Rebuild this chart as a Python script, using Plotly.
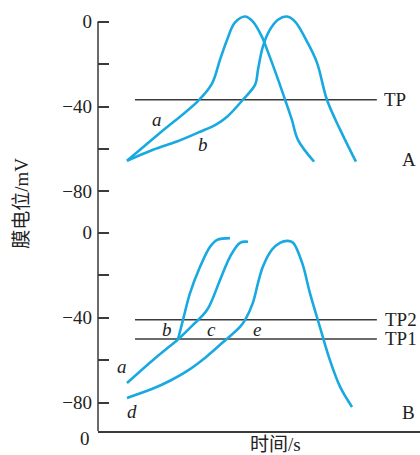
import plotly.graph_objects as go

# ---- Panel A: membrane potential curves (time in arbitrary units, mV) ----
a_t = [9.0, 19.3, 31.1, 35.4, 37.9, 40.1, 42.5, 45.7, 48.1, 50.9, 52.5, 55.6, 58.1, 60.2, 62.1, 67.1]
a_v = [-65.6, -52.4, -37.3, -29.2, -17.9, -8.5, -0.5, 2.4, 0.0, -7.1, -13.2, -25.9, -36.8, -46.2, -55.7, -66.0]

b_t = [9.0, 17.1, 24.5, 31.7, 36.5, 40.1, 45.0, 48.8, 49.7, 51.2, 53.4, 55.9, 58.7, 61.2, 64.9, 68.0, 71.1, 75.2, 80.1]
b_v = [-65.6, -60.4, -56.5, -51.9, -48.6, -44.8, -36.8, -29.7, -22.6, -11.8, -3.8, 0.9, 2.4, 0.0, -9.4, -19.3, -36.8, -50.9, -66.0]

tp_a = -36.8

# ---- Panel B ----
ba_t = [9.0, 17.1, 24.8]
ba_v = [-70.8, -59.9, -50.4]

bb_t = [24.8, 26.4, 28.6, 31.7, 34.8, 37.0, 41.0]
bb_v = [-50.4, -41.0, -28.3, -16.0, -6.6, -3.3, -2.5]

bc_t = [24.8, 29.5, 33.9, 37.9, 41.0, 44.1, 46.6]
bc_v = [-50.4, -43.4, -36.3, -22.2, -11.3, -4.7, -4.2]

bd_t = [9.0, 17.1, 22.5, 27.6, 33.5, 38.8, 44.1, 45.7, 48.1, 49.7, 51.2, 54.0, 56.5, 59.0, 60.6, 63.4, 65.8, 68.9, 72.0, 75.2, 78.9]
bd_v = [-77.8, -73.4, -69.6, -65.2, -58.6, -51.6, -44.3, -41.0, -33.0, -23.6, -16.0, -8.0, -4.7, -3.8, -4.7, -14.2, -28.3, -44.3, -59.9, -72.6, -82.1]

tp2 = -41.0
tp1 = -50.0
tp_span = [11.5, 86.6]

tick_vals = [0, -20, -40, -60, -80]
tick_text = ["0", "", "\u221240", "", "\u221280"]

A_RANGE = [-89.6, 5.0]
B_RANGE = [-93.4, 9.9]
A_DOMAIN = [0.5219, 1]
B_DOMAIN = [0, 0.5219]

CURVE = "#19A9E1"
AXIS = "#3a3a3a"
SERIF = "Liberation Serif, Times New Roman, serif"
CJK = "Liberation Serif, Noto Sans CJK SC, serif"

fig = go.Figure()


def curve(t, v, yaxis):
    fig.add_trace(go.Scatter(x=t, y=v, yaxis=yaxis, mode="lines",
                             line=dict(color=CURVE, width=2.6, shape="spline", smoothing=1.0),
                             hoverinfo="skip", showlegend=False))


def hline(level, yaxis):
    fig.add_trace(go.Scatter(x=tp_span, y=[level, level], yaxis=yaxis, mode="lines",
                             line=dict(color=AXIS, width=1.5),
                             hoverinfo="skip", showlegend=False))


# panel A
hline(tp_a, "y2")
curve(a_t, a_v, "y2")
curve(b_t, b_v, "y2")

# panel B
hline(tp2, "y")
hline(tp1, "y")
curve(ba_t, ba_v, "y")
curve(bb_t, bb_v, "y")
curve(bc_t, bc_v, "y")
curve(bd_t, bd_v, "y")

yaxis_common = dict(
    showline=False,
    ticks="inside", ticklen=11, tickwidth=1.5, tickcolor=AXIS,
    tickvals=tick_vals, ticktext=tick_text,
    tickfont=dict(family=SERIF, size=19, color="#222"),
    ticklabelstandoff=5,
    showgrid=False, zeroline=False, anchor="x",
)

fig.update_layout(
    width=420, height=455,
    margin=dict(l=98, r=0, t=11.4, b=24),
    paper_bgcolor="white", plot_bgcolor="white",
    xaxis=dict(range=[0, 100], showline=True, linecolor=AXIS, linewidth=1.5,
               showticklabels=False, ticks="", showgrid=False, zeroline=False),
    yaxis=dict(domain=B_DOMAIN, range=B_RANGE, **yaxis_common),
    yaxis2=dict(domain=A_DOMAIN, range=A_RANGE, **yaxis_common),
)

# one continuous vertical axis line, from the time axis up to 0 mV of the upper panel
a_zero_paper = A_DOMAIN[0] + (0 - A_RANGE[0]) / (A_RANGE[1] - A_RANGE[0]) * (A_DOMAIN[1] - A_DOMAIN[0])
fig.add_shape(type="line", xref="paper", yref="paper", x0=0, x1=0, y0=0, y1=a_zero_paper,
              line=dict(color=AXIS, width=1.5))

italic = dict(family=SERIF, size=19, color="#222", style="italic")
plain = dict(family=SERIF, size=19, color="#222")

labels = [
    # text, x, y, yref, font, xanchor
    ("a", 18.3, -46.2, "y2", italic, "center"),
    ("b", 32.6, -58.0, "y2", italic, "center"),
    ("TP", 88.2, tp_a, "y2", plain, "left"),
    ("A", 96.6, -65.1, "y2", plain, "center"),
    ("a", 7.5, -63.2, "y", italic, "center"),
    ("d", 10.6, -84.4, "y", italic, "center"),
    ("b", 21.4, -45.8, "y", italic, "center"),
    ("c", 35.4, -45.8, "y", italic, "center"),
    ("e", 49.4, -45.8, "y", italic, "center"),
    ("TP2", 88.5, tp2, "y", plain, "left"),
    ("TP1", 88.5, tp1, "y", plain, "left"),
    ("B", 96.3, -84.9, "y", plain, "center"),
]
for text, x, y, yref, font, xa in labels:
    fig.add_annotation(text=text, x=x, y=y, xref="x", yref=yref, showarrow=False,
                       font=font, xanchor=xa, yanchor="middle")

# axis titles and origin mark
fig.add_annotation(text="膜电位/mV", xref="paper", yref="paper", x=-0.236, y=0.541,
                   textangle=-90, showarrow=False, font=dict(family=CJK, size=19, color="#222"),
                   xanchor="center", yanchor="middle")
fig.add_annotation(text="时间/s", xref="paper", yref="paper", x=0.55, y=-0.033,
                   showarrow=False, font=dict(family=CJK, size=19, color="#222"),
                   xanchor="center", yanchor="middle")
fig.add_annotation(text="0", xref="paper", yref="paper", x=-0.04, y=-0.017,
                   showarrow=False, font=plain, xanchor="center", yanchor="middle")

fig.write_html("out.html")
